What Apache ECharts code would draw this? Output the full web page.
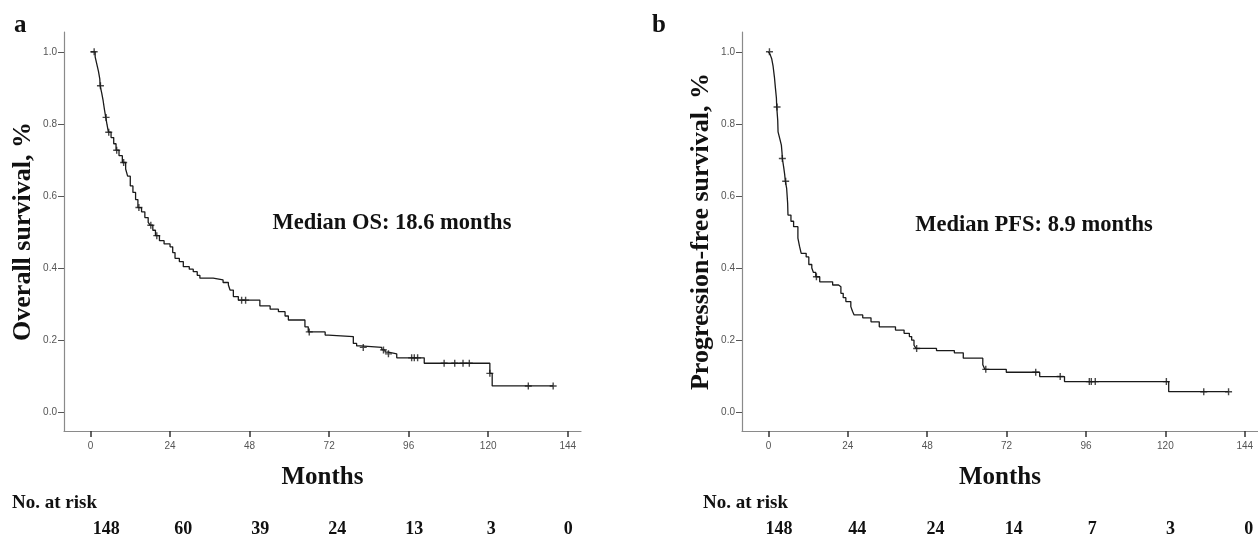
<!DOCTYPE html>
<html>
<head>
<meta charset="utf-8">
<script src="https://cdn.jsdelivr.net/npm/echarts@6/dist/echarts.min.js"></script>
<style>
  html, body { margin: 0; padding: 0; background: #fff; }
  #chart { width: 1258px; height: 541px; }
</style>
</head>
<body>
<div id="chart"></div>
<script>
// x ticks (months) and y ticks (survival fraction)
var monthTicks = [0, 24, 48, 72, 96, 120, 144];
var survTicks = [0, 0.2, 0.4, 0.6, 0.8, 1.0];

// panel a: overall survival, [month, survival] after each drop
var osSteps = [
  [0, 1.0], [1.4, 0.986], [1.9, 0.966], [2.4, 0.946], [2.8, 0.925], [2.9, 0.906],
  [3.4, 0.885], [3.8, 0.865], [4.2, 0.84], [4.6, 0.818], [5.0, 0.797], [5.4, 0.777],
  [6.2, 0.762], [7.0, 0.745], [7.7, 0.727], [8.6, 0.712], [9.6, 0.693], [10.6, 0.675],
  [11.2, 0.655], [12.0, 0.628], [12.8, 0.61], [13.6, 0.59], [14.3, 0.568], [15.4, 0.556],
  [16.4, 0.54], [17.4, 0.527], [18.0, 0.519], [18.8, 0.505], [19.6, 0.49], [20.8, 0.476],
  [22.2, 0.467], [24.0, 0.459], [24.8, 0.443], [25.5, 0.427], [26.8, 0.418], [28.0, 0.404],
  [29.8, 0.397], [31.0, 0.39], [32.2, 0.38], [33.0, 0.372], [37.0, 0.367], [40.0, 0.36],
  [41.6, 0.353], [42.1, 0.339], [43.1, 0.321], [44.6, 0.311], [51.1, 0.295], [54.2, 0.286],
  [56.7, 0.279], [58.7, 0.267], [59.7, 0.256], [64.7, 0.237], [65.7, 0.223], [70.8, 0.214],
  [71.8, 0.21], [79.3, 0.191], [80.3, 0.184], [81.5, 0.18], [87.9, 0.173], [88.9, 0.167],
  [89.9, 0.162], [92.4, 0.151], [100.7, 0.136], [120.5, 0.108], [121.2, 0.073], [139.6, 0.073]
];
var osCensored = [
  [1.1, 1.0], [3.0, 0.906], [4.7, 0.818], [5.5, 0.777], [7.9, 0.727], [10.0, 0.693],
  [14.6, 0.568], [18.2, 0.519], [20.0, 0.49], [45.6, 0.311], [46.8, 0.311], [66.0, 0.223],
  [82.3, 0.18], [88.4, 0.173], [89.9, 0.162], [96.9, 0.151], [97.7, 0.151], [98.7, 0.151],
  [106.7, 0.136], [109.9, 0.136], [112.4, 0.136], [114.3, 0.136], [120.5, 0.108],
  [132.1, 0.073], [139.6, 0.073]
];
var osAtRisk = [148, 60, 39, 24, 13, 3, 0];

// panel b: progression-free survival
var pfsSteps = [
  [0, 1.0], [0.5, 0.993], [1.0, 0.98], [1.4, 0.96], [1.8, 0.93], [2.1, 0.9], [2.4, 0.872],
  [2.5, 0.847], [2.8, 0.81], [2.9, 0.778], [3.4, 0.76], [3.9, 0.741], [4.1, 0.72], [4.2, 0.704],
  [4.6, 0.68], [4.9, 0.66], [5.1, 0.641], [5.5, 0.621], [5.8, 0.58], [5.9, 0.547], [6.8, 0.53],
  [7.6, 0.515], [8.9, 0.483], [9.4, 0.46], [9.9, 0.441], [11.4, 0.431], [12.2, 0.41],
  [13.1, 0.4], [13.6, 0.388], [14.3, 0.376], [15.5, 0.362], [19.4, 0.353], [21.2, 0.348],
  [21.9, 0.33], [22.6, 0.318], [23.4, 0.307], [24.9, 0.293], [25.4, 0.28], [25.9, 0.27],
  [28.5, 0.262], [31.0, 0.251], [33.5, 0.237], [38.4, 0.228], [41.0, 0.219], [42.6, 0.21],
  [43.3, 0.2], [44.0, 0.186], [44.6, 0.177], [50.8, 0.171], [56.2, 0.165], [58.9, 0.15],
  [64.8, 0.132], [65.4, 0.119], [71.9, 0.111], [82.0, 0.099], [89.5, 0.085], [121.0, 0.057],
  [139.1, 0.057]
];
var pfsCensored = [
  [0.3, 1.0], [2.6, 0.847], [4.2, 0.704], [5.2, 0.641], [14.5, 0.376], [44.8, 0.177],
  [65.7, 0.119], [80.8, 0.111], [88.2, 0.099], [97.0, 0.085], [97.6, 0.085], [98.8, 0.085],
  [120.3, 0.085], [131.6, 0.057], [139.1, 0.057]
];
var pfsAtRisk = [148, 44, 24, 14, 7, 3, 0];

var serif = 'Liberation Serif';
var sans = 'Liberation Sans';
var plus = 'path://M3.6,0 H5.4 V3.6 H9 V5.4 H5.4 V9 H3.6 V5.4 H0 V3.6 H3.6 Z';

function monthAxis(gridIndex) {
  return {
    type: 'value', gridIndex: gridIndex, min: -8, max: 148,
    name: 'Months', nameLocation: 'middle', nameGap: 34,
    nameTextStyle: {fontFamily: serif, fontWeight: 'bold', fontSize: 25, color: '#111'},
    axisLine: {show: true, onZero: false, lineStyle: {color: '#8a8a8a', width: 1.2}},
    axisTick: {show: true, customValues: monthTicks, length: 6, lineStyle: {color: '#333', width: 1.5}},
    axisLabel: {customValues: monthTicks, margin: 10, fontFamily: sans, fontSize: 10, color: '#555'},
    splitLine: {show: false},
  };
}

function riskAxis(gridIndex, min, max, counts) {
  return {
    type: 'value', gridIndex: gridIndex, min: min, max: max,
    position: 'bottom', offset: 89,
    axisLine: {show: false},
    axisTick: {show: false},
    axisLabel: {
      customValues: monthTicks, margin: 0,
      fontFamily: serif, fontWeight: 'bold', fontSize: 18, color: '#111',
      formatter: function(v) { return String(counts[monthTicks.indexOf(v)]); },
    },
    splitLine: {show: false},
  };
}

function survAxis(gridIndex, title) {
  return {
    type: 'value', gridIndex: gridIndex, min: -0.052, max: 1.055,
    name: title, nameLocation: 'middle', nameGap: 28, nameMoveOverlap: false,
    nameTextStyle: {fontFamily: serif, fontWeight: 'bold', fontSize: 26, color: '#111'},
    axisLine: {show: true, onZero: false, lineStyle: {color: '#8a8a8a', width: 1.2}},
    axisTick: {show: true, customValues: survTicks, length: 6, lineStyle: {color: '#555'}},
    axisLabel: {
      customValues: survTicks, margin: 7, fontFamily: sans, fontSize: 10, color: '#555',
      formatter: function(v) { return v.toFixed(1); },
    },
    splitLine: {show: false},
  };
}

function curve(axisIndex, steps) {
  return {
    type: 'line', xAxisIndex: axisIndex, yAxisIndex: axisIndex, step: 'end',
    data: steps, showSymbol: false, silent: true,
    lineStyle: {color: '#1a1a1a', width: 1.3},
  };
}

function censorMarks(axisIndex, pts) {
  return {
    type: 'scatter', xAxisIndex: axisIndex, yAxisIndex: axisIndex,
    data: pts, symbol: plus, symbolSize: 7, silent: true,
    itemStyle: {color: '#1a1a1a'},
  };
}

function text(x, y, str, size, align) {
  return {
    type: 'text', x: x, y: y,
    style: {text: str, fontFamily: serif, fontWeight: 'bold', fontSize: size,
      fill: '#111', align: align || 'left', verticalAlign: 'middle'},
  };
}

var chart = echarts.init(document.getElementById('chart'));
chart.setOption({
  animation: false,
  grid: [
    {left: 64, top: 32, width: 517, height: 399},
    {left: 742, top: 32, width: 516, height: 399},
  ],
  xAxis: [
    monthAxis(0),
    monthAxis(1),
    riskAxis(0, -13.2, 148, osAtRisk),
    riskAxis(1, -11.3, 146.8, pfsAtRisk),
  ],
  yAxis: [
    survAxis(0, 'Overall survival, %'),
    survAxis(1, 'Progression-free survival, %'),
  ],
  series: [
    curve(0, osSteps),
    censorMarks(0, osCensored),
    curve(1, pfsSteps),
    censorMarks(1, pfsCensored),
  ],
  graphic: [
    text(14, 26, 'a', 25),
    text(652, 26, 'b', 25),
    text(392, 223, 'Median OS: 18.6 months', 22.5, 'center'),
    text(1034, 225, 'Median PFS: 8.9 months', 22.5, 'center'),
    text(12, 503, 'No. at risk', 19),
    text(703, 503, 'No. at risk', 19),
  ],
});
</script>
</body>
</html>
